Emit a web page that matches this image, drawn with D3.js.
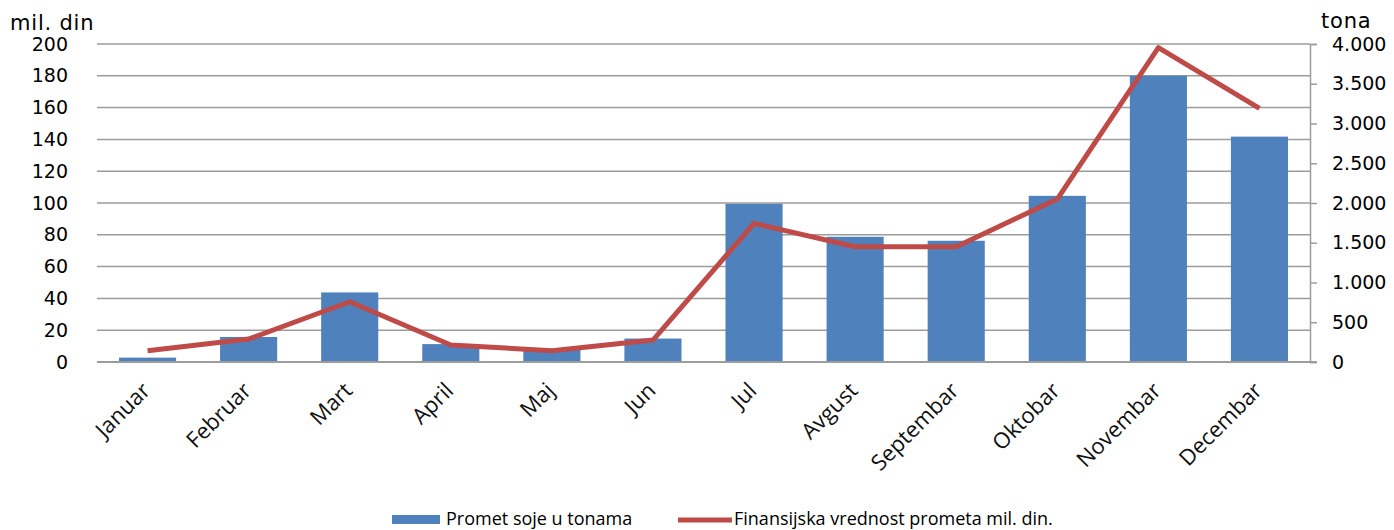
<!DOCTYPE html>
<html>
<head>
<meta charset="utf-8">
<script src="https://cdn.jsdelivr.net/npm/d3@7"></script>
<style>
  body { margin: 0; background: #fff; }
  svg { display: block; }
</style>
</head>
<body>
<svg></svg>
<script>
const w = 1394;
const h = 530;

// data
const months = ['Januar', 'Februar', 'Mart', 'April', 'Maj', 'Jun', 'Jul', 'Avgust', 'Septembar', 'Oktobar', 'Novembar', 'Decembar'];
const tons = [55, 315, 875, 225, 160, 295, 1990, 1575, 1525, 2090, 3600, 2835];
const milDin = [7.1, 14.4, 37.9, 10.7, 7.1, 13.8, 87.2, 72.5, 72.5, 102.5, 197.7, 159.5];
const leftTicks = [0, 20, 40, 60, 80, 100, 120, 140, 160, 180, 200];
const rightTicks = [0, 500, 1000, 1500, 2000, 2500, 3000, 3500, 4000];
const seriesNames = ['Promet soje u tonama', 'Finansijska vrednost prometa mil. din.'];

const plotLeft = 97, plotRight = 1310, plotTop = 44, plotBottom = 362;

const svg = d3.select('svg').attr('width', w).attr('height', h);

const x = d3.scaleBand().domain(months).range([plotLeft, plotRight])
    .paddingInner(0.435).paddingOuter(0.2175);
const yL = d3.scaleLinear().domain([0, 200]).range([plotBottom, plotTop]);
const yR = d3.scaleLinear().domain([0, 4000]).range([plotBottom, plotTop]);

const sr = d3.formatLocale({ decimal: ',', thousands: '.', grouping: [3], currency: ['', ''] });
const fmt = sr.format(',d');

// gridlines
svg.append('g')
    .selectAll('line')
    .data(leftTicks)
    .enter()
    .append('line')
    .attr('x1', plotLeft)
    .attr('x2', plotRight)
    .attr('y1', (d) => yL(d))
    .attr('y2', (d) => yL(d))
    .attr('stroke', '#9c9c9c')
    .attr('stroke-width', 1.5);

// bars
svg.append('g')
    .selectAll('rect')
    .data(tons)
    .enter()
    .append('rect')
    .attr('x', (d, i) => x(months[i]))
    .attr('y', (d) => yR(d))
    .attr('width', x.bandwidth())
    .attr('height', (d) => plotBottom - yR(d))
    .attr('fill', '#4f81bd');

// line
const line = d3.line()
    .x((d, i) => x(months[i]) + x.bandwidth() / 2)
    .y((d) => yL(d));
svg.append('path')
    .datum(milDin)
    .attr('d', line)
    .attr('fill', 'none')
    .attr('stroke', '#be4b48')
    .attr('stroke-width', 5)
    .attr('stroke-linejoin', 'round');

// left axis
const yAxisL = svg.append('g')
    .attr('transform', 'translate(' + plotLeft + ',0)')
    .call(d3.axisLeft(yL).tickValues(leftTicks).tickSize(0).tickPadding(29));
yAxisL.select('.domain').remove();

// right axis
const yAxisR = svg.append('g')
    .attr('transform', 'translate(' + plotRight + ',0)')
    .call(d3.axisRight(yR).tickValues(rightTicks).tickSize(7).tickPadding(15).tickFormat(fmt));
yAxisR.selectAll('line').attr('stroke', '#9c9c9c').attr('stroke-width', 1.5);
yAxisR.select('.domain').attr('stroke', '#9c9c9c').attr('stroke-width', 1.5);

svg.selectAll('.tick text')
    .attr('font-family', '"DejaVu Sans", Verdana, sans-serif')
    .attr('font-size', 19)
    .attr('fill', '#000');

// bottom axis line
svg.append('line')
    .attr('x1', plotLeft)
    .attr('x2', plotRight + 7)
    .attr('y1', plotBottom)
    .attr('y2', plotBottom)
    .attr('stroke', '#9c9c9c')
    .attr('stroke-width', 2);

// category labels, rotated
svg.append('g')
    .selectAll('text')
    .data(months)
    .enter()
    .append('text')
    .attr('transform', (d) => 'translate(' + (x(d) + x.bandwidth() / 2 + 4) + ',' + 392 + ') rotate(-45)')
    .attr('text-anchor', 'end')
    .attr('font-family', '"Open Sans", sans-serif')
    .attr('font-size', 22)
    .attr('fill', '#111')
    .text((d) => d);

// axis titles
svg.append('text')
    .attr('x', 10).attr('y', 30)
    .attr('font-family', '"DejaVu Sans", Verdana, sans-serif')
    .attr('font-size', 21)
    .attr('letter-spacing', 0.8)
    .text('mil. din');
svg.append('text')
    .attr('x', 1321).attr('y', 28)
    .attr('font-family', '"DejaVu Sans", Verdana, sans-serif')
    .attr('font-size', 21)
    .attr('letter-spacing', 0.8)
    .text('tona');

// legend
const legend = svg.append('g').attr('font-family', '"Open Sans", sans-serif').attr('font-size', 18);
legend.append('rect')
    .attr('x', 392).attr('y', 515).attr('width', 48).attr('height', 9)
    .attr('fill', '#4f81bd');
legend.append('text').attr('x', 446).attr('y', 525).text(seriesNames[0]);
legend.append('line')
    .attr('x1', 678).attr('x2', 732).attr('y1', 520).attr('y2', 520)
    .attr('stroke', '#be4b48').attr('stroke-width', 5);
legend.append('text').attr('x', 734).attr('y', 525).text(seriesNames[1]);
</script>
</body>
</html>
